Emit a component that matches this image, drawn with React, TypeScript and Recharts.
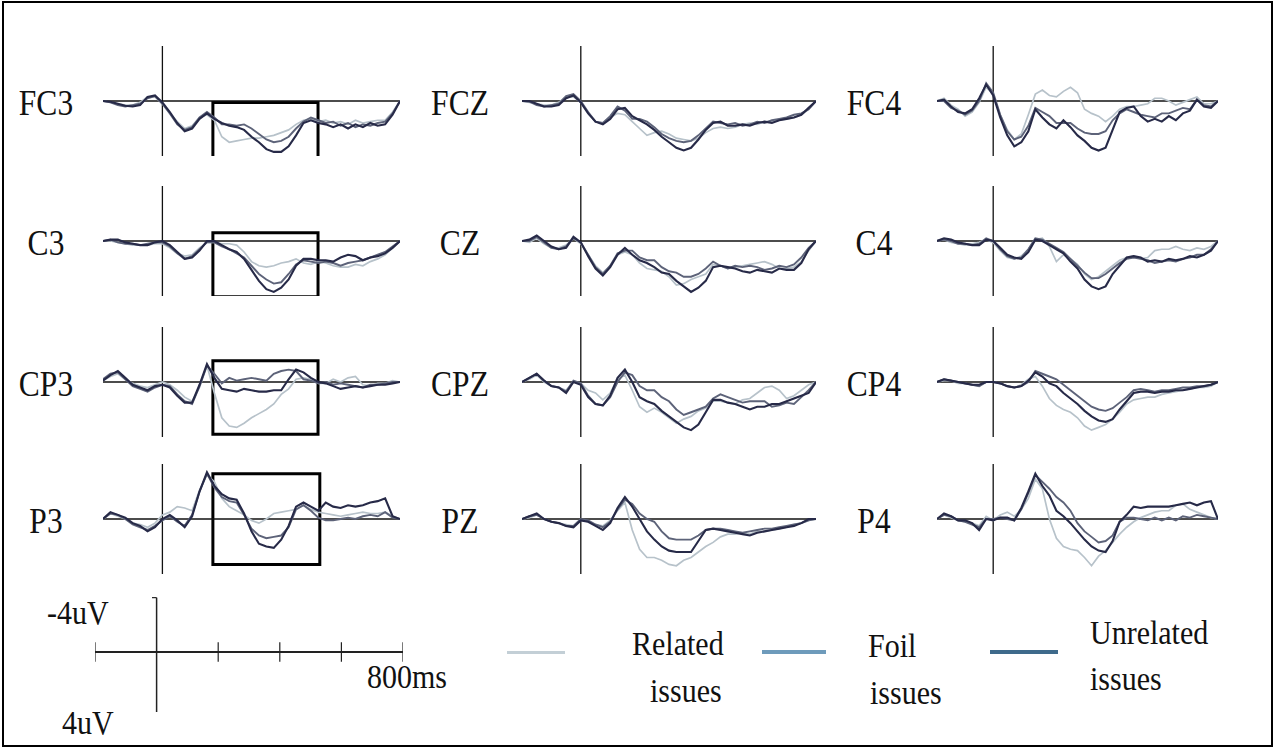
import React from 'react';
import { LineChart, Line, XAxis, YAxis, ReferenceLine, ReferenceArea } from 'recharts';

// time points (ms)
const times = [-200, -175, -150, -125, -100, -75, -50, -25, 0, 25, 50, 75, 100, 125, 150, 175, 200, 225, 250, 275, 300, 325, 350, 375, 400, 425, 450, 475, 500, 525, 550, 575, 600, 625, 650, 675, 700, 725, 750, 775, 800];

// amplitudes in uV (negative plotted upward)
const fc3Rel = [0, 0.1, 0.2, 0.3, 0.3, 0.1, -0.3, -0.3, 0.2, 0.9, 1.5, 2.0, 1.8, 1.2, 1.0, 1.4, 2.6, 3.0, 2.9, 2.8, 2.7, 2.7, 2.6, 2.5, 2.3, 2.1, 1.7, 1.4, 1.3, 1.5, 1.4, 1.6, 1.5, 1.7, 1.4, 1.6, 1.5, 1.4, 1.4, 0.8, 0];
const fc3Foil = [0, 0.1, 0.3, 0.4, 0.3, 0.2, -0.2, -0.35, 0.2, 0.9, 1.7, 2.1, 1.9, 1.2, 0.8, 1.2, 1.7, 1.7, 1.8, 1.7, 2.0, 2.4, 2.8, 3.0, 2.9, 2.6, 2.0, 1.5, 1.2, 1.4, 1.6, 1.5, 1.8, 1.6, 1.9, 1.7, 1.8, 1.6, 1.5, 0.9, 0];
const fc3Unr = [0, 0.05, 0.2, 0.35, 0.4, 0.3, -0.3, -0.4, 0.1, 0.8, 1.6, 2.2, 2.0, 1.3, 0.9, 1.3, 1.6, 1.8, 1.9, 2.1, 2.6, 3.0, 3.5, 3.7, 3.7, 3.3, 2.5, 1.6, 1.4, 1.6, 1.7, 1.9, 1.7, 2.0, 1.7, 1.9, 1.6, 1.8, 1.7, 1.0, 0];

const fczRel = [0, 0.1, 0.2, 0.3, 0.3, 0.1, -0.3, -0.3, 0.1, 0.9, 1.5, 1.6, 1.2, 0.9, 1.0, 1.5, 2.0, 2.5, 2.3, 2.2, 2.4, 2.7, 2.8, 2.9, 2.7, 2.3, 2.0, 1.9, 2.0, 1.9, 1.7, 1.6, 1.7, 1.5, 1.5, 1.4, 1.3, 1.2, 1.0, 0.6, 0];
const fczFoil = [0, 0.05, 0.3, 0.4, 0.3, 0.2, -0.35, -0.5, 0, 0.8, 1.5, 1.6, 1.1, 0.4, 0.7, 1.3, 1.3, 1.5, 1.9, 2.4, 2.7, 2.9, 3.0, 2.9, 2.5, 2.0, 1.5, 1.6, 1.7, 1.6, 1.8, 1.7, 1.5, 1.6, 1.4, 1.3, 1.2, 1.0, 0.9, 0.6, 0];
const fczUnr = [0, 0, 0.2, 0.4, 0.4, 0.3, -0.2, -0.4, 0.1, 0.9, 1.5, 1.7, 1.3, 0.6, 0.5, 1.1, 1.4, 1.7, 2.1, 2.6, 3.0, 3.4, 3.6, 3.4, 2.8, 2.1, 1.6, 1.5, 1.8, 1.8, 1.7, 1.8, 1.6, 1.5, 1.6, 1.4, 1.3, 1.2, 1.0, 0.5, 0];

const fc4Rel = [0, -0.2, 0.3, 0.6, 1.1, 0.8, 0.1, -1.0, -0.5, 1.0, 2.1, 2.8, 2.4, 1.0, -0.5, -0.8, -0.4, -0.3, -0.7, -1.0, -0.6, 0.6, 0.9, 1.1, 1.5, 1.1, 0.6, 0.4, 0.4, 0.3, 0.2, -0.2, -0.2, 0, 0.3, 0.1, -0.1, -0.3, 0.2, 0.2, 0];
const fc4Foil = [0, 0, 0.5, 0.7, 1.0, 0.7, 0, -1.3, -0.6, 1.0, 2.2, 2.8, 2.6, 1.8, 0.5, 0.8, 1.1, 1.6, 1.6, 1.6, 2.0, 2.3, 2.4, 2.4, 2.2, 1.4, 0.9, 0.6, 0.8, 1.0, 1.1, 1.2, 0.9, 0.9, 0.7, 0.5, 0.6, -0.1, 0.3, 0.4, 0];
const fc4Unr = [0, -0.1, 0.4, 0.8, 0.9, 0.6, -0.2, -1.2, -0.4, 1.2, 2.5, 3.3, 3.0, 2.2, 0.6, 1.2, 1.7, 2.0, 1.4, 1.9, 2.5, 2.9, 3.4, 3.6, 3.4, 2.1, 0.8, 0.5, 0.4, 1.1, 1.5, 1.3, 1.5, 1.1, 1.4, 0.9, 0.7, -0.1, 0.4, 0.5, 0];

const c3Rel = [0, 0, 0.1, 0.2, 0.3, 0.3, 0.3, 0.2, 0.2, 0.5, 0.9, 1.1, 1.0, 0.5, 0.1, 0.1, 0.2, 0.2, 0.3, 0.8, 1.5, 1.8, 1.9, 1.8, 1.6, 1.5, 1.3, 1.6, 1.7, 1.5, 1.6, 1.8, 1.9, 1.9, 1.7, 1.8, 1.5, 1.3, 1.0, 0.5, 0];
const c3Foil = [0, -0.1, 0.1, 0.2, 0.2, 0.3, 0.2, 0.1, 0.1, 0.4, 0.9, 1.3, 1.1, 0.6, 0.1, 0.1, 0.4, 0.6, 0.9, 1.2, 1.8, 2.4, 2.8, 3.1, 3.0, 2.4, 1.7, 1.4, 1.5, 1.6, 1.5, 1.6, 1.8, 1.6, 1.5, 1.4, 1.2, 1.0, 0.8, 0.4, 0];
const c3Unr = [0, -0.1, -0.1, 0.1, 0.2, 0.3, 0.3, 0.1, 0, 0.3, 0.8, 1.3, 1.2, 0.7, 0, 0, 0.3, 0.6, 0.8, 1.3, 2.1, 2.9, 3.5, 3.7, 3.4, 2.8, 1.8, 1.3, 1.3, 1.4, 1.4, 1.5, 1.2, 1.0, 1.1, 1.4, 1.2, 1.1, 0.9, 0.5, 0];

const czRel = [0, 0.1, -0.2, 0.2, 0.5, 0.5, 0.3, -0.2, 0.2, 1.0, 1.8, 2.3, 1.8, 1.0, 0.8, 1.0, 1.6, 2.0, 2.1, 2.2, 2.6, 3.2, 3.1, 2.8, 2.6, 2.4, 1.7, 1.8, 2.0, 1.9, 1.8, 1.7, 1.6, 1.5, 1.7, 2.0, 2.0, 1.9, 1.5, 0.7, 0];
const czFoil = [0, 0, -0.3, 0.1, 0.5, 0.6, 0.4, -0.2, 0.1, 1.0, 1.9, 2.4, 1.8, 0.9, 0.7, 0.7, 1.2, 1.4, 1.4, 1.9, 2.2, 2.3, 2.6, 2.6, 2.4, 2.0, 1.5, 1.8, 2.0, 1.8, 1.9, 1.8, 1.9, 2.1, 2.0, 1.8, 1.9, 1.7, 1.2, 0.5, 0];
const czUnr = [0, -0.1, -0.4, 0, 0.4, 0.6, 0.5, -0.3, 0.1, 1.1, 2.0, 2.5, 1.9, 1.0, 0.5, 1.0, 1.4, 1.6, 1.9, 2.3, 2.4, 2.9, 3.3, 3.7, 3.4, 2.9, 1.9, 1.8, 1.9, 2.0, 2.2, 2.3, 2.1, 2.2, 2.3, 2.0, 2.1, 2.1, 1.6, 0.6, 0];

const c4Rel = [0, -0.1, 0.1, 0.2, 0.3, 0.2, 0.1, -0.1, 0.1, 0.7, 1.2, 1.3, 1.1, 0.6, -0.1, -0.2, 0.4, 1.5, 1.0, 1.3, 1.7, 2.4, 2.8, 2.6, 2.2, 1.8, 1.4, 1.2, 1.1, 1.3, 1.2, 0.7, 0.6, 0.6, 0.4, 0.6, 0.7, 0.5, 0.6, 0.4, 0];
const c4Foil = [0, -0.1, 0, 0.2, 0.2, 0.3, 0.2, -0.2, 0, 0.6, 1.1, 1.3, 1.2, 0.6, -0.2, -0.1, 0.2, 0.5, 0.8, 1.3, 1.8, 2.3, 2.7, 2.7, 2.4, 2.0, 1.6, 1.3, 1.2, 1.3, 1.4, 1.6, 1.5, 1.4, 1.5, 1.3, 1.2, 1.0, 1.0, 0.6, 0];
const c4Unr = [0, -0.2, -0.1, 0.1, 0.2, 0.3, 0.3, -0.1, 0, 0.5, 1.0, 1.2, 1.3, 0.8, -0.1, 0, 0.3, 0.6, 0.9, 1.5, 2.0, 2.8, 3.3, 3.5, 3.3, 2.4, 1.8, 1.2, 1.1, 1.2, 1.5, 1.4, 1.5, 1.3, 1.4, 1.3, 1.1, 1.2, 1.0, 0.7, 0];

const cp3Rel = [-0.1, -0.4, -0.6, -0.2, 0.1, 0.3, 0.4, 0.2, 0, 0.2, 0.6, 1.1, 1.4, 0.4, -1.2, 0.8, 2.6, 3.2, 3.3, 3.0, 2.6, 2.3, 2.0, 1.6, 0.9, 0.5, -0.2, -0.3, -0.2, 0.1, 0.1, -0.2, 0, -0.3, -0.4, 0.2, 0.3, 0.1, 0.1, -0.1, 0];
const cp3Foil = [-0.2, -0.6, -0.7, -0.2, 0.3, 0.5, 0.7, 0.4, 0.2, 0.3, 0.9, 1.4, 1.6, 0.3, -1.2, -0.6, 0.1, -0.3, -0.1, -0.2, -0.3, -0.2, -0.1, -0.6, -0.8, -0.9, -0.8, -0.2, -0.1, 0.1, 0, 0.2, 0.1, 0.2, 0.3, 0.4, 0.2, 0.2, 0.1, 0, 0];
const cp3Unr = [-0.1, -0.5, -0.8, -0.3, 0.2, 0.4, 0.6, 0.3, 0.2, 0.4, 1.0, 1.5, 1.5, 0.2, -1.3, -0.3, 0.5, 0.6, 0.7, 0.5, 0.6, 0.7, 0.7, 0.6, 0.6, -0.2, -0.9, -0.7, -0.3, 0, 0.1, 0.3, 0.5, 0.4, 0.3, 0.4, 0.3, 0.2, 0.2, 0.1, 0];

const cpzRel = [0, -0.2, -0.5, 0, 0.3, 0.4, 0.6, 0, 0.1, 0.6, 0.8, 1.3, 0.8, -0.2, -0.5, 0.6, 1.8, 2.2, 1.9, 2.2, 2.6, 3.0, 2.7, 2.5, 2.1, 1.9, 1.4, 1.4, 1.5, 1.6, 1.3, 1.2, 0.8, 0.4, 0.3, 0.6, 1.2, 1.0, 0.6, 0.2, 0];
const cpzFoil = [0, -0.3, -0.6, -0.1, 0.3, 0.4, 0.7, -0.1, 0.1, 1.0, 1.6, 1.7, 1.1, 0, -0.7, -0.5, 0.3, 0.6, 0.6, 1.1, 1.4, 2.0, 2.4, 2.2, 2.0, 1.8, 1.2, 0.9, 1.1, 1.3, 1.5, 1.4, 1.4, 1.4, 1.8, 1.7, 1.5, 1.6, 1.1, 0.6, 0];
const cpzUnr = [0, -0.3, -0.6, -0.1, 0.3, 0.4, 0.8, 0, 0.2, 1.1, 1.6, 1.7, 1.0, -0.3, -0.9, 0, 1.1, 1.4, 1.6, 2.1, 2.5, 2.9, 3.3, 3.5, 3.1, 2.2, 1.3, 1.3, 1.5, 1.6, 1.8, 2.0, 1.8, 1.8, 1.6, 1.6, 1.4, 1.2, 1.0, 0.8, 0];

const cp4Rel = [0, -0.1, -0.1, 0.1, 0.1, 0.2, 0.3, 0, 0, 0.1, 0.3, 0.4, 0.2, -0.2, -0.4, 0.3, 1.2, 1.7, 2.0, 2.2, 2.6, 3.2, 3.5, 3.3, 3.1, 2.7, 2.2, 1.6, 1.3, 1.2, 1.1, 1.1, 0.9, 0.8, 0.7, 0.6, 0.5, 0.4, 0.4, 0.3, 0];
const cp4Foil = [0, -0.2, -0.1, 0, 0.1, 0.2, 0.3, 0, 0, 0.1, 0.3, 0.4, 0.3, 0, -0.8, -0.6, -0.4, -0.2, 0.2, 0.6, 1.0, 1.4, 1.8, 2.0, 2.1, 1.9, 1.5, 1.1, 0.6, 0.5, 0.6, 0.7, 0.6, 0.6, 0.5, 0.4, 0.4, 0.3, 0.3, 0.2, 0];
const cp4Unr = [0, -0.2, -0.1, 0, 0.1, 0.2, 0.2, 0, 0, 0.1, 0.3, 0.4, 0.3, -0.1, -0.7, -0.4, 0.1, 0.3, 0.8, 1.2, 1.6, 2.1, 2.5, 2.8, 2.9, 2.7, 2.0, 1.4, 0.8, 0.7, 0.7, 0.8, 0.7, 0.7, 0.6, 0.6, 0.5, 0.4, 0.3, 0.2, 0];

const p3Rel = [0, -0.4, -0.2, 0, 0.3, 0.4, 0.6, 0.3, -0.3, -0.5, -0.9, -0.8, -0.6, -2.1, -3.2, -2.7, -1.5, -0.9, -0.6, -0.3, 0.1, 0.3, 0, -0.4, -0.5, -0.6, -0.7, -1.0, -0.7, -0.5, -0.4, -0.3, -0.2, -0.3, -0.4, -0.5, -0.4, -0.4, -0.5, -0.2, 0];
const p3Foil = [0, -0.4, -0.3, 0, 0.4, 0.6, 0.8, 0.5, 0.1, -0.2, 0.2, 0.5, -0.3, -2.0, -3.3, -2.3, -1.6, -1.3, -1.2, -0.3, 0.7, 1.2, 1.4, 1.3, 1.2, 0.6, -0.7, -1.0, -0.6, -0.1, 0.1, 0.1, 0, -0.1, 0, -0.2, -0.3, -0.2, -0.5, -0.1, 0];
const p3Unr = [0, -0.5, -0.3, -0.1, 0.3, 0.5, 0.9, 0.6, 0, -0.3, 0.1, 0.6, -0.2, -2.0, -3.4, -2.4, -1.8, -1.5, -1.4, -0.4, 0.9, 1.8, 2.0, 2.1, 1.5, 0.5, -0.9, -1.2, -0.9, -0.6, -1.2, -0.9, -0.8, -1.0, -0.9, -1.0, -1.2, -1.3, -1.5, -0.2, 0];

const pzRel = [0, -0.1, -0.3, 0, 0.2, 0.3, 0.4, 0.5, 0.1, 0.2, 0.4, 0.5, 0.1, -0.6, -1.2, 0.8, 2.2, 2.8, 2.8, 3.0, 3.3, 3.4, 3.0, 2.8, 2.4, 2.0, 1.7, 1.3, 1.1, 1.1, 1.0, 1.1, 0.9, 0.9, 0.8, 0.7, 0.6, 0.4, 0.3, 0.1, 0];
const pzFoil = [0, -0.2, -0.3, 0, 0.2, 0.3, 0.5, 0.5, 0, 0.1, 0.4, 0.6, 0.2, -0.7, -1.4, -1.1, -0.4, 0, 0.2, 0.9, 1.4, 1.5, 1.5, 1.5, 1.2, 0.8, 0.7, 0.7, 0.8, 0.9, 1.0, 0.9, 0.8, 0.7, 0.7, 0.6, 0.5, 0.4, 0.3, 0.1, 0];
const pzUnr = [0, -0.2, -0.4, 0, 0.2, 0.3, 0.5, 0.6, 0.1, 0.2, 0.5, 0.8, 0.3, -0.8, -1.6, -0.9, 0, 0.9, 1.5, 2.0, 2.3, 2.4, 2.4, 2.4, 1.6, 0.8, 0.7, 0.8, 0.9, 1.0, 1.1, 1.2, 1.0, 0.9, 0.8, 0.7, 0.6, 0.5, 0.3, 0, 0];

const p4Rel = [0, -0.3, -0.1, 0.1, 0.2, 0.3, 0.5, -0.2, 0.1, -0.3, -0.5, -0.2, -0.7, -1.5, -2.9, -2.2, 0, 1.4, 2.0, 2.2, 2.3, 2.8, 3.4, 2.7, 2.3, 1.7, 1.1, 0.6, 0.2, -0.1, -0.3, -0.5, -0.6, -0.6, -1.0, -1.1, -0.7, -0.5, -0.3, -0.1, 0];
const p4Foil = [0, -0.3, -0.2, 0.1, 0.2, 0.4, 0.6, 0, 0, -0.1, 0, 0.1, -0.7, -1.9, -3.2, -2.7, -2.2, -1.6, -1.2, -0.6, 0.3, 0.9, 1.3, 1.7, 1.6, 1.2, 0.2, -0.1, -0.1, 0, 0.1, -0.1, 0.1, -0.1, 0.1, -0.2, -0.1, -0.3, -0.2, -0.1, 0];
const p4Unr = [0, -0.4, -0.2, 0.1, 0.1, 0.3, 0.8, 0, 0.1, -0.1, -0.1, 0.1, -0.8, -2.0, -3.3, -2.4, -1.7, -0.6, -0.2, 0.3, 0.9, 1.5, 2.0, 2.3, 2.4, 1.6, 0.2, -0.3, -0.9, -0.8, -0.9, -0.9, -0.9, -0.9, -1.0, -1.1, -1.2, -1.0, -1.2, -1.3, 0];

const channels = ['FC3', 'FCZ', 'FC4', 'C3', 'CZ', 'C4', 'CP3', 'CPZ', 'CP4', 'P3', 'PZ', 'P4'];
const relatedSeries = [fc3Rel, fczRel, fc4Rel, c3Rel, czRel, c4Rel, cp3Rel, cpzRel, cp4Rel, p3Rel, pzRel, p4Rel];
const foilSeries = [fc3Foil, fczFoil, fc4Foil, c3Foil, czFoil, c4Foil, cp3Foil, cpzFoil, cp4Foil, p3Foil, pzFoil, p4Foil];
const unrelatedSeries = [fc3Unr, fczUnr, fc4Unr, c3Unr, czUnr, c4Unr, cp3Unr, cpzUnr, cp4Unr, p3Unr, pzUnr, p4Unr];

// analysis windows (ms, uV) for left column
const boxFC3 = [170, 524, 0.1, 4.1];
const boxC3 = [170, 524, -0.6, 4.05];
const boxCP3 = [170, 524, -1.55, 3.8];
const boxP3 = [170, 530, -3.3, 3.3];
const boxes = [boxFC3, null, null, boxC3, null, null, boxCP3, null, null, boxP3, null, null];

const scaleTicks = [-200, 200, 400, 600, 800];
const legendNames = ['Related', 'Foil', 'Unrelated'];

// layout
const COLS = [
  { left: 103, width: 297, labelX: 46 },
  { left: 522, width: 294, labelX: 460 },
  { left: 937, width: 281, labelX: 874 },
];
const ROW_BASE = [101, 241, 382, 519];
const PLOT_H = 110;
const SERIF = "'Liberation Serif', 'Times New Roman', serif";

const C_REL = '#b7c2ca';
const C_FOIL = '#5d6379';
const C_UNR = '#272a48';

function Panel({ idx }: { idx: number }) {
  const col = COLS[idx % 3];
  const base = ROW_BASE[Math.floor(idx / 3)];
  const top = base - PLOT_H / 2;
  const rel = relatedSeries[idx];
  const foil = foilSeries[idx];
  const unr = unrelatedSeries[idx];
  const data = times.map((t, i) => ({ t, rel: rel[i], foil: foil[i], unr: unr[i] }));
  const box = boxes[idx];
  return (
    <>
      <div
        style={{
          position: 'absolute',
          left: col.labelX,
          top: base + 2,
          transform: 'translate(-50%, -50%) scale(1.05, 1.18)',
          fontFamily: SERIF,
          fontSize: 30,
          lineHeight: '30px',
          color: '#111',
          whiteSpace: 'nowrap',
        }}
      >
        {channels[idx]}
      </div>
      <div style={{ position: 'absolute', left: col.left, top }}>
        <LineChart
          width={col.width}
          height={PLOT_H}
          data={data}
          margin={{ top: 0, right: 0, bottom: 0, left: 0 }}
          style={{ overflow: 'visible' }}
        >
          <XAxis dataKey="t" type="number" domain={[-200, 800]} hide />
          <YAxis type="number" domain={[-4, 4]} reversed hide />
          <ReferenceLine y={0} stroke="#111" strokeWidth={1.3} ifOverflow="visible" />
          <ReferenceLine x={0} stroke="#111" strokeWidth={1.3} ifOverflow="visible" />
          {box && (
            <ReferenceArea
              x1={box[0]}
              x2={box[1]}
              y1={box[2]}
              y2={box[3]}
              fill="none"
              fillOpacity={0}
              stroke="#000"
              strokeWidth={3}
              ifOverflow="visible"
            />
          )}
          <Line dataKey="rel" type="linear" stroke={C_REL} strokeWidth={1.7} dot={false} isAnimationActive={false} />
          <Line dataKey="foil" type="linear" stroke={C_FOIL} strokeWidth={1.9} dot={false} isAnimationActive={false} />
          <Line dataKey="unr" type="linear" stroke={C_UNR} strokeWidth={2.1} dot={false} isAnimationActive={false} />
        </LineChart>
      </div>
    </>
  );
}

function ScaleBar() {
  const data = [{ t: -200, v: 0 }, { t: 800, v: 0 }];
  return (
    <div style={{ position: 'absolute', left: 95, top: 592 }}>
      <LineChart width={308} height={120} data={data} margin={{ top: 0, right: 0, bottom: 0, left: 0 }} style={{ overflow: 'visible' }}>
        <XAxis dataKey="t" type="number" domain={[-200, 800]} hide />
        <YAxis type="number" domain={[-4.36, 4.36]} reversed hide />
        <ReferenceLine segment={[{ x: -222, y: 0 }, { x: 823, y: 0 }]} stroke="#222" strokeWidth={2} ifOverflow="visible" />
        {scaleTicks.map((t) => (
          <ReferenceLine key={t} segment={[{ x: t, y: -0.7 }, { x: t, y: 0.7 }]} stroke="#222" strokeWidth={1.2} ifOverflow="visible" />
        ))}
        <ReferenceLine segment={[{ x: 0, y: -3.95 }, { x: 0, y: 4.65 }]} stroke="#222" strokeWidth={1.5} ifOverflow="visible" />
        <ReferenceLine segment={[{ x: -15, y: -3.95 }, { x: 0, y: -3.95 }]} stroke="#222" strokeWidth={1.2} ifOverflow="visible" />
        <ReferenceLine segment={[{ x: 0, y: 4.65 }, { x: 15, y: 4.65 }]} stroke="#222" strokeWidth={1.2} ifOverflow="visible" />
        <Line dataKey="v" stroke="none" dot={false} isAnimationActive={false} />
      </LineChart>
    </div>
  );
}

const textStyle = (left: number, top: number): React.CSSProperties => ({
  position: 'absolute',
  left,
  top,
  fontFamily: SERIF,
  fontSize: 30,
  lineHeight: '30px',
  color: '#111',
  whiteSpace: 'nowrap',
  transform: 'scaleY(1.15)',
  transformOrigin: 'left center',
});

export default function App() {
  return (
    <div style={{ position: 'fixed', left: 0, top: 0, width: 1276, height: 749, background: '#fff', overflow: 'hidden' }}>
      <div style={{ position: 'absolute', left: 2, top: 1, width: 1271, height: 746, border: '2px solid #000', boxSizing: 'border-box' }} />
      {channels.map((_, i) => (
        <Panel key={i} idx={i} />
      ))}
      <ScaleBar />
      <div style={textStyle(47, 597)}>-4uV</div>
      <div style={textStyle(62, 707)}>4uV</div>
      <div style={textStyle(367, 661)}>800ms</div>

      <div style={{ position: 'absolute', left: 507, top: 651, width: 58, height: 3, background: '#c3cfd6' }} />
      <div style={textStyle(632, 628)}>{legendNames[0]}</div>
      <div style={textStyle(650, 675)}>issues</div>

      <div style={{ position: 'absolute', left: 762, top: 650, width: 64, height: 4, background: '#6e9bbb' }} />
      <div style={textStyle(868, 630)}>{legendNames[1]}</div>
      <div style={textStyle(870, 677)}>issues</div>

      <div style={{ position: 'absolute', left: 990, top: 650, width: 68, height: 4, background: '#3e6a8b' }} />
      <div style={textStyle(1090, 617)}>{legendNames[2]}</div>
      <div style={textStyle(1090, 663)}>issues</div>
    </div>
  );
}
